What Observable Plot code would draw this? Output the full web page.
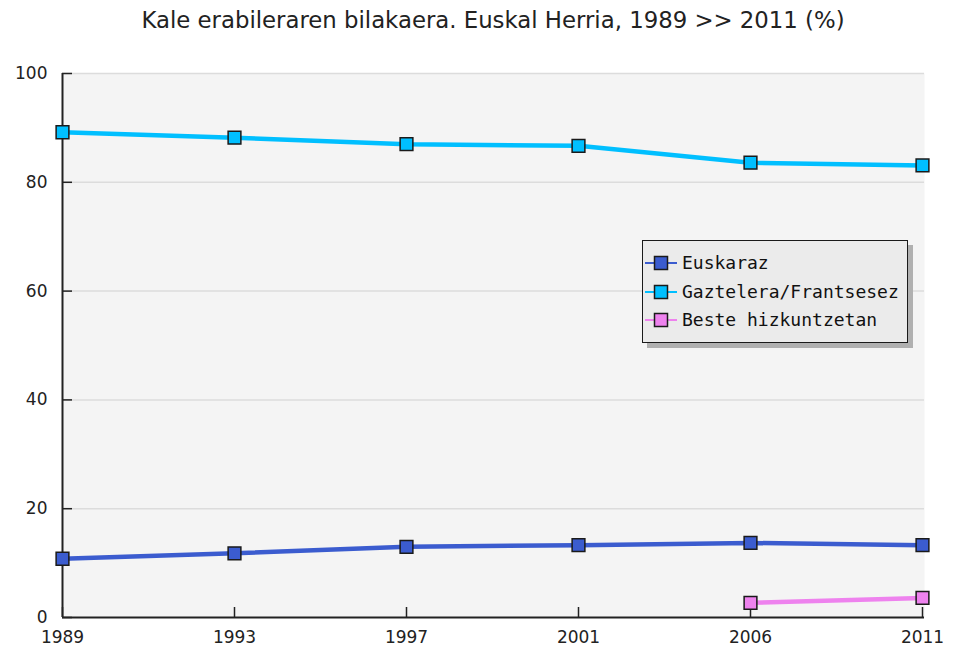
<!DOCTYPE html>
<html>
<head>
<meta charset="utf-8">
<script src="https://cdn.jsdelivr.net/npm/d3@7"></script>
<script src="https://cdn.jsdelivr.net/npm/@observablehq/plot@0.6"></script>
<style>
  html, body { margin: 0; padding: 0; background: #fff; }
  #wrap { position: relative; width: 956px; height: 646px; }
  #title { height: 40px; line-height: 40px; box-sizing: border-box; padding-left: 62px; padding-right: 32px;
           text-align: center; font-family: "DejaVu Sans", sans-serif; font-size: 22.8px; color: #222; white-space: nowrap; }
  #legend { position: absolute; left: 642px; top: 240px; width: 266px; height: 103px; box-sizing: border-box;
            border: 1.5px solid #1a1a1a; background: #ebebeb; box-shadow: 5px 5px 0 #b0b0b0; }
  .row { position: absolute; left: 0; height: 20px; }
  .row svg { position: absolute; left: 2px; top: 0; }
  .row span { position: absolute; left: 39px; top: 0; line-height: 20px; font-family: "DejaVu Sans Mono", monospace;
              font-size: 18px; color: #111; white-space: nowrap; }
</style>
</head>
<body>
<div id="wrap">
  <div id="title">Kale erabileraren bilakaera. Euskal Herria, 1989 &gt;&gt; 2011 (%)</div>
  <div id="chart"></div>
  <div id="legend"></div>
</div>
<script>
const years = ["1989", "1993", "1997", "2001", "2006", "2011"];
const euskaraz = [10.8, 11.8, 13.0, 13.3, 13.7, 13.3];
const gaztelera = [89.2, 88.2, 87.0, 86.7, 83.6, 83.1];
const besteYears = ["2006", "2011"];
const beste = [2.7, 3.6];
const seriesNames = ["Euskaraz", "Gaztelera/Frantsesez", "Beste hizkuntzetan"];
const seriesColors = ["#3b5ccf", "#00bfff", "#ee82ee"];
const yTicks = [0, 20, 40, 60, 80, 100];

const data = [
  ...years.map((y, i) => ({year: y, value: euskaraz[i], series: seriesNames[0]})),
  ...years.map((y, i) => ({year: y, value: gaztelera[i], series: seriesNames[1]})),
  ...besteYears.map((y, i) => ({year: y, value: beste[i], series: seriesNames[2]}))
];

const W = 956, H = 606, mT = 33, mB = 29, mL = 62, mR = 32;
const frameW = W - mL - mR, frameH = H - mT - mB;

const chart = Plot.plot({
  width: W, height: H,
  marginTop: mT, marginBottom: mB, marginLeft: mL, marginRight: mR,
  style: {fontFamily: "DejaVu Sans, sans-serif", fontSize: "17px", color: "#222", background: "transparent", overflow: "visible"},
  x: {type: "point", domain: years, range: [mL, W - mR - 2], padding: 0, label: null},
  y: {domain: [0, 100], label: null},
  color: {domain: seriesNames, range: seriesColors},
  marks: [
    Plot.frame({fill: "#f4f4f4", stroke: null}),
    Plot.ruleY(yTicks.filter(d => d > 0), {stroke: "#dcdcdc", strokeWidth: 1.5}),
    Plot.ruleY(yTicks, {stroke: "#222", strokeWidth: 1.5, insetRight: frameW - 10}),
    Plot.ruleX(years, {x: d => d, stroke: "#222", strokeWidth: 1.5, insetTop: frameH - 10}),
    Plot.ruleY([0], {stroke: "#222", strokeWidth: 2}),
    Plot.ruleX([years[0]], {x: d => d, stroke: "#222", strokeWidth: 2}),
    Plot.axisY({ticks: yTicks, tickSize: 0, tickPadding: 15, tickFormat: d => String(d)}),
    Plot.axisX({tickSize: 0, tickPadding: 13}),
    Plot.line(data, {x: "year", y: "value", stroke: "series", strokeWidth: 4.5}),
    Plot.dot(data, {x: "year", y: "value", fill: "series", symbol: "square", r: 7.2, stroke: "#1a1a1a", strokeWidth: 1.5})
  ]
});
document.getElementById("chart").appendChild(chart);

const legend = document.getElementById("legend");
const rowTops = [12, 41, 69];
seriesNames.forEach((name, i) => {
  const row = document.createElement("div");
  row.className = "row";
  row.style.top = rowTops[i] + "px";
  row.innerHTML = `<svg width="34" height="20"><line x1="0" y1="10" x2="32" y2="10" stroke="${seriesColors[i]}" stroke-width="2"/>` +
    `<rect x="9.5" y="3.5" width="13" height="13" fill="${seriesColors[i]}" stroke="#1a1a1a" stroke-width="1.5"/></svg>` +
    `<span>${name}</span>`;
  legend.appendChild(row);
});
</script>
</body>
</html>
